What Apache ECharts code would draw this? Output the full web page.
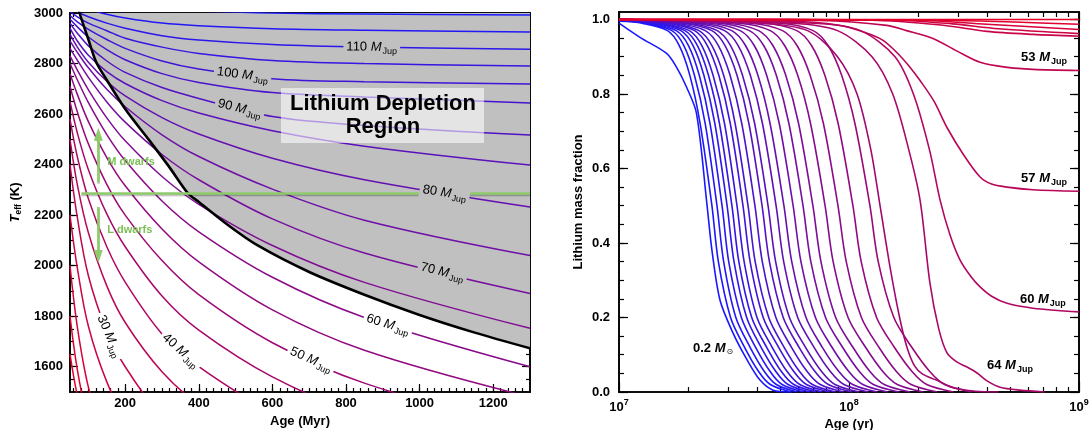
<!DOCTYPE html>
<html>
<head>
<meta charset="utf-8">
<script src="https://cdn.jsdelivr.net/npm/echarts@6/dist/echarts.min.js"></script>
<style>
  html, body { margin: 0; padding: 0; background: #fff; }
  #chart { width: 1089px; height: 430px; }
</style>
</head>
<body>
<div id="chart"></div>
<script>
// ---------------- Left panel: Teff (K) versus age (Myr) for each mass (M_Jup) ----------------
const trackAges = [50, 70, 100, 150, 200, 300, 400, 600, 850, 1300];
const teff_M10  = [1650, 1486, 1319, 1139];
const teff_M15  = [1800, 1588, 1378, 1161];
const teff_M20  = [2000, 1757, 1519, 1273, 1115];
const teff_M25  = [2200, 1990, 1760, 1540, 1400, 1212];
const teff_M30  = [2400, 2190, 1960, 1740, 1600, 1400, 1270];
const teff_M35  = [2500, 2320, 2130, 1920, 1775, 1580, 1450, 1270];
const teff_M40  = [2580, 2430, 2265, 2075, 1935, 1730, 1600, 1420, 1270];
const teff_M45  = [2650, 2525, 2380, 2205, 2075, 1880, 1745, 1560, 1405, 1225];
const teff_M50  = [2710, 2608, 2482, 2322, 2200, 2020, 1885, 1695, 1535, 1350];
const teff_M55  = [2760, 2678, 2570, 2428, 2316, 2145, 2015, 1825, 1665, 1480];
const teff_M60  = [2800, 2735, 2645, 2519, 2416, 2256, 2134, 1954, 1795, 1600];
const teff_M65  = [2830, 2774, 2696, 2585, 2494, 2353, 2243, 2080, 1934, 1752];
const teff_M70  = [2860, 2813, 2745, 2648, 2568, 2440, 2340, 2185, 2050, 1890];
const teff_M75  = [2890, 2844, 2783, 2698, 2629, 2518, 2432, 2303, 2180, 2040];
const teff_M80  = [2915, 2865, 2805, 2730, 2672, 2586, 2521, 2425, 2340, 2232];
const teff_M85  = [2940, 2889, 2833, 2768, 2721, 2653, 2604, 2534, 2473, 2398];
const teff_M90  = [2960, 2920, 2870, 2810, 2765, 2705, 2662, 2590, 2555, 2517];
const teff_M95  = [2975, 2945, 2905, 2855, 2815, 2760, 2725, 2685, 2668, 2644];
const teff_M100 = [2990, 2965, 2935, 2895, 2860, 2810, 2778, 2740, 2728, 2719];
const teff_M105 = [3005, 2985, 2960, 2930, 2900, 2865, 2840, 2812, 2800, 2790];
const teff_M110 = [3025, 3005, 2985, 2960, 2940, 2910, 2893, 2875, 2865, 2857];
const teff_M115 = [3050, 3030, 3015, 2995, 2980, 2960, 2950, 2938, 2932, 2925];
const teff_M120 = [3090, 3075, 3060, 3045, 3030, 3015, 3008, 3000, 2996, 2992];

const trackMasses = [10, 15, 20, 25, 30, 35, 40, 45, 50, 55, 60, 65, 70, 75, 80, 85, 90, 95, 100, 105, 110, 115, 120];
const trackTeffs = [teff_M10, teff_M15, teff_M20, teff_M25, teff_M30, teff_M35, teff_M40, teff_M45,
  teff_M50, teff_M55, teff_M60, teff_M65, teff_M70, teff_M75, teff_M80, teff_M85, teff_M90,
  teff_M95, teff_M100, teff_M105, teff_M110, teff_M115, teff_M120];

// Lithium depletion boundary (age in Myr, Teff in K)
const ldbAges = [62, 76, 100, 121, 150, 202, 265, 320, 370, 400, 480, 560, 700, 850, 1000, 1150, 1300];
const ldbTeff = [3080, 3000, 2895, 2806, 2735, 2616, 2497, 2390, 2287, 2252, 2160, 2080, 1975, 1885, 1805, 1735, 1673];

// Mass labels placed along the tracks (mass, age in Myr, background)
const trackLabelMass = [110, 100, 90, 80, 70, 60, 50, 40, 30];
const trackLabelAge  = [870, 519, 511, 1068, 1062, 914, 705, 351, 157];
const trackLabelInGrey = [true, true, true, true, true, false, false, false, false];

// Spectral-class divider and arrows (Teff in K, age in Myr)
const dividerTeff = 2285;
const dividerAges = [81, 1300];
const arrowAge = 127;
const arrowUpTeff = [2330, 2520];
const arrowDownTeff = [2232, 2036];

// Left panel ticks
const ageMajor = [200, 400, 600, 800, 1000, 1200];
const teffMajor = [1600, 1800, 2000, 2200, 2400, 2600, 2800, 3000];

// ---------------- Right panel: lithium mass fraction versus log10(age / yr) ----------------
const liTrack00 = [[7.000,0.990],[7.091,0.952],[7.207,0.909],[7.250,0.872],[7.294,0.818],[7.337,0.748],[7.383,0.5],[7.404,0.381],[7.439,0.247],[7.496,0.158],[7.557,0.086],[7.613,0.032],[7.670,0.005],[7.750,0]];
const liTrack01 = [[7,0.995],[7.100,0.99],[7.211,0.97],[7.262,0.93],[7.308,0.85],[7.353,0.72],[7.404,0.5],[7.432,0.35],[7.485,0.2],[7.546,0.12],[7.607,0.055],[7.658,0.02],[7.749,0]];
const liTrack02 = [[7,0.997],[7.117,0.99],[7.230,0.97],[7.282,0.93],[7.328,0.85],[7.375,0.72],[7.426,0.5],[7.455,0.35],[7.508,0.2],[7.570,0.12],[7.632,0.055],[7.684,0.02],[7.776,0]];
const liTrack03 = [[7,0.998],[7.135,0.99],[7.249,0.97],[7.302,0.93],[7.349,0.85],[7.396,0.72],[7.448,0.5],[7.477,0.35],[7.532,0.2],[7.594,0.12],[7.657,0.055],[7.709,0.02],[7.803,0]];
const liTrack04 = [[7,0.999],[7.152,0.99],[7.269,0.97],[7.322,0.93],[7.369,0.85],[7.417,0.72],[7.470,0.5],[7.500,0.35],[7.555,0.2],[7.618,0.12],[7.682,0.055],[7.735,0.02],[7.830,0]];
const liTrack05 = [[7,1],[7.169,0.99],[7.287,0.97],[7.341,0.93],[7.389,0.85],[7.437,0.72],[7.491,0.5],[7.521,0.35],[7.577,0.2],[7.642,0.12],[7.706,0.055],[7.760,0.02],[7.857,0]];
const liTrack06 = [[7,1],[7.186,0.99],[7.306,0.97],[7.360,0.93],[7.409,0.85],[7.459,0.72],[7.513,0.5],[7.544,0.35],[7.600,0.2],[7.666,0.12],[7.731,0.055],[7.786,0.02],[7.884,0]];
const liTrack07 = [[7,1],[7.208,0.99],[7.329,0.97],[7.384,0.93],[7.434,0.85],[7.484,0.72],[7.539,0.5],[7.570,0.35],[7.627,0.2],[7.694,0.12],[7.760,0.055],[7.815,0.02],[7.915,0]];
const liTrack08 = [[7,1],[7.225,0.99],[7.348,0.97],[7.404,0.93],[7.455,0.85],[7.505,0.72],[7.561,0.5],[7.592,0.35],[7.651,0.2],[7.718,0.12],[7.785,0.055],[7.841,0.02],[7.942,0]];
const liTrack09 = [[7,1],[7.251,0.99],[7.375,0.97],[7.432,0.93],[7.483,0.85],[7.534,0.72],[7.591,0.5],[7.623,0.35],[7.682,0.2],[7.750,0.12],[7.818,0.055],[7.875,0.02],[7.977,0]];
const liTrack10 = [[7,1],[7.277,0.99],[7.404,0.97],[7.461,0.93],[7.513,0.85],[7.565,0.72],[7.622,0.5],[7.654,0.35],[7.714,0.2],[7.783,0.12],[7.852,0.055],[7.910,0.02],[8.013,0]];
const liTrack11 = [[7,1],[7.299,0.99],[7.427,0.97],[7.485,0.93],[7.537,0.85],[7.590,0.72],[7.648,0.5],[7.681,0.35],[7.741,0.2],[7.811,0.12],[7.881,0.055],[7.939,0.02],[8.044,0]];
const liTrack12 = [[7,1],[7.329,0.99],[7.459,0.97],[7.518,0.93],[7.571,0.85],[7.624,0.72],[7.683,0.5],[7.716,0.35],[7.777,0.2],[7.848,0.12],[7.919,0.055],[7.978,0.02],[8.084,0]];
const liTrack13 = [[7,1],[7.359,0.99],[7.490,0.97],[7.550,0.93],[7.604,0.85],[7.657,0.72],[7.717,0.5],[7.751,0.35],[7.813,0.2],[7.884,0.12],[7.956,0.055],[8.016,0.02],[8.123,0]];
const liTrack14 = [[7,1],[7.394,0.99],[7.527,0.97],[7.588,0.93],[7.642,0.85],[7.697,0.72],[7.757,0.5],[7.791,0.35],[7.854,0.2],[7.926,0.12],[7.999,0.055],[8.060,0.02],[8.168,0]];
const liTrack15 = [[7,1],[7.433,0.99],[7.567,0.97],[7.629,0.93],[7.684,0.85],[7.739,0.72],[7.800,0.5],[7.834,0.35],[7.898,0.2],[7.972,0.12],[8.045,0.055],[8.106,0.02],[8.217,0]];
const liTrack16 = [[7,1],[7.471,0.99],[7.607,0.97],[7.669,0.93],[7.725,0.85],[7.781,0.72],[7.843,0.5],[7.878,0.35],[7.942,0.2],[8.017,0.12],[8.091,0.055],[8.153,0.02],[8.265,0]];
const liTrack17 = [[7,1],[7.520,0.99],[7.658,0.97],[7.720,0.93],[7.777,0.85],[7.833,0.72],[7.896,0.5],[7.931,0.35],[7.996,0.2],[8.072,0.12],[8.147,0.055],[8.210,0.02],[8.323,0]];
const liTrack18 = [[7,1],[7.571,0.99],[7.711,0.97],[7.774,0.93],[7.831,0.85],[7.889,0.72],[7.952,0.5],[7.988,0.35],[8.054,0.2],[8.130,0.12],[8.206,0.055],[8.270,0.02],[8.384,0]];
const liTrack19 = [[7,1],[7.632,0.99],[7.773,0.97],[7.837,0.93],[7.895,0.85],[7.953,0.72],[8.017,0.5],[8.053,0.35],[8.120,0.2],[8.197,0.12],[8.274,0.055],[8.338,0.02],[8.454,0]];
const liTrack20 = [[7,1],[7.701,0.99],[7.844,0.97],[7.909,0.93],[7.968,0.85],[8.026,0.72],[8.091,0.5],[8.127,0.35],[8.195,0.2],[8.273,0.12],[8.351,0.055],[8.416,0.02],[8.533,0]];
const liTrack21 = [[7,1],[7.62,0.99],[7.82,0.97],[7.95,0.9],[8.035,0.8],[8.095,0.65],[8.135,0.5],[8.18,0.33],[8.22,0.2],[8.252,0.12],[8.285,0.07],[8.32,0.048],[8.38,0.032],[8.45,0.012],[8.55,0.002],[8.65,0]];
const liTrack22 = [[7,1],[7.75,0.99],[7.95,0.97],[8.10,0.9],[8.19,0.8],[8.26,0.65],[8.309,0.515],[8.352,0.292],[8.39,0.17],[8.426,0.105],[8.47,0.08],[8.513,0.067],[8.557,0.051],[8.60,0.03],[8.657,0.013],[8.743,0.005],[8.85,0]];
const liTrack23 = [[7,1],[7.85,0.99],[8.05,0.97],[8.20,0.9],[8.28,0.8],[8.35,0.65],[8.396,0.515],[8.44,0.42],[8.483,0.354],[8.53,0.31],[8.57,0.282],[8.62,0.257],[8.687,0.238],[8.8,0.225],[9.0,0.215]];
const liTrack24 = [[7,1],[7.75,0.995],[7.95,0.985],[8.07,0.965],[8.148,0.944],[8.21,0.91],[8.265,0.872],[8.309,0.836],[8.37,0.78],[8.426,0.71],[8.5,0.635],[8.57,0.577],[8.62,0.558],[8.687,0.55],[8.8,0.543],[9.0,0.539]];
const liTrack25 = [[7,1],[7.874,0.997],[8.165,0.984],[8.25,0.97],[8.365,0.949],[8.47,0.915],[8.57,0.885],[8.68,0.872],[8.8,0.866],[9.0,0.863]];
const liTrack26 = [[7,1],[8.1,0.998],[8.4,0.985],[8.6,0.968],[8.8,0.96],[9.0,0.955]];
const liTrack27 = [[7,1],[8.2,0.998],[8.45,0.988],[8.65,0.975],[9.0,0.962]];
const liTrack28 = [[7,1],[8.3,0.998],[8.6,0.987],[9.0,0.973]];
const liTrack29 = [[7,1],[8.4,0.998],[9.0,0.987]];
const liTrack30 = [[7,1],[9.0,1.0]];

const liTracks = [liTrack00, liTrack01, liTrack02, liTrack03, liTrack04, liTrack05, liTrack06, liTrack07,
  liTrack08, liTrack09, liTrack10, liTrack11, liTrack12, liTrack13, liTrack14, liTrack15, liTrack16,
  liTrack17, liTrack18, liTrack19, liTrack20, liTrack21, liTrack22, liTrack23, liTrack24, liTrack25,
  liTrack26, liTrack27, liTrack28, liTrack29, liTrack30];

// Curve labels: text, unit, log10(age), lithium fraction
const liLabelText = ['53', '57', '60', '64', '0.2'];
const liLabelUnit = ['Jup', 'Jup', 'Jup', 'Jup', 'sun'];
const liLabelLogAge = [8.848, 8.848, 8.843, 8.700, 7.409];
const liLabelFrac = [0.898, 0.574, 0.249, 0.072, 0.118];

// Right panel ticks
const decadeMajor = [7, 8, 9];
const decadeMultipliers = [2, 3, 4, 5, 6, 7, 8, 9];
const fracMajor = [0, 0.2, 0.4, 0.6, 0.8, 1.0];

// ---------------- styling helpers ----------------
const FONT = "'Liberation Sans', Arial, Helvetica, sans-serif";
const RED = [232, 0, 40], BLUE = [25, 25, 255];
function mix(a, b, t) {
  return 'rgb(' + a.map((v, k) => Math.round(v + (b[k] - v) * t)).join(',') + ')';
}
function steps(a, b, s) {
  const out = [];
  for (let v = a; v <= b + 1e-9; v += s) out.push(+v.toFixed(6));
  return out;
}
const ageMinor = steps(60, 1280, 20);
const teffMinor = steps(1550, 2950, 50);
const fracMinor = steps(0.05, 1.0, 0.05);
const decadeMinor = [];
[7, 8].forEach(d => decadeMultipliers.forEach(m => decadeMinor.push(d + Math.log10(m))));

function tickAxis(grid, pos, min, max, ticks, len, extra) {
  return Object.assign({
    type: 'value', gridIndex: grid, position: pos, min: min, max: max,
    axisLine: { show: true, onZero: false, lineStyle: { color: '#000', width: 1.6 } },
    axisTick: { show: true, inside: true, length: len, customValues: ticks, lineStyle: { color: '#000', width: 1.2 } },
    axisLabel: { show: false },
    splitLine: { show: false },
    minorTick: { show: false }
  }, extra || {});
}
const tickLabel = { show: true, color: '#000', fontFamily: FONT, fontWeight: 'bold', fontSize: 13 };
const nameStyle = { color: '#000', fontFamily: FONT, fontWeight: 'bold', fontSize: 13 };

function interp(xs, ys, x) {
  const n = ys.length;
  if (x <= xs[0]) return ys[0];
  for (let i = 1; i < n; i++) {
    if (x <= xs[i]) {
      const t = (x - xs[i - 1]) / (xs[i] - xs[i - 1]);
      return ys[i - 1] + t * (ys[i] - ys[i - 1]);
    }
  }
  return ys[n - 1];
}

// ---------------- axes ----------------
const xAxes = [
  tickAxis(0, 'bottom', 50, 1300, ageMajor, 8, {
    axisLabel: Object.assign({ customValues: ageMajor, margin: 5, formatter: v => String(v) }, tickLabel),
    name: 'Age (Myr)', nameLocation: 'middle', nameGap: 16, nameTextStyle: nameStyle
  }),
  tickAxis(0, 'bottom', 50, 1300, ageMinor, 4),
  tickAxis(0, 'top', 50, 1300, ageMajor, 8),
  tickAxis(0, 'top', 50, 1300, ageMinor, 4),
  tickAxis(1, 'bottom', 7, 9, decadeMajor, 10, {
    axisLabel: Object.assign({
      customValues: decadeMajor, margin: 6,
      formatter: v => '{b|10}{sup|' + Math.round(v) + '}',
      rich: {
        b: { fontFamily: FONT, fontWeight: 'bold', fontSize: 13, color: '#000' },
        sup: { fontFamily: FONT, fontWeight: 'bold', fontSize: 9, color: '#000', padding: [0, 0, 9, 0] }
      }
    }, tickLabel),
    name: 'Age (yr)', nameLocation: 'middle', nameGap: 21, nameTextStyle: nameStyle
  }),
  tickAxis(1, 'bottom', 7, 9, decadeMinor, 5),
  tickAxis(1, 'top', 7, 9, decadeMajor, 10),
  tickAxis(1, 'top', 7, 9, decadeMinor, 5)
];

const yAxes = [
  tickAxis(0, 'left', 1500, 3000, teffMajor, 8, {
    axisLabel: Object.assign({ customValues: teffMajor, margin: 7, formatter: v => String(v) }, tickLabel),
    name: '{i|T}{s|eff}{n| (K)}', nameLocation: 'middle', nameGap: 47,
    nameTextStyle: {
      rich: {
        i: { fontFamily: FONT, fontWeight: 'bold', fontStyle: 'italic', fontSize: 13, color: '#000' },
        s: { fontFamily: FONT, fontWeight: 'bold', fontSize: 8.5, color: '#000', padding: [7, 0, 0, 0] },
        n: { fontFamily: FONT, fontWeight: 'bold', fontSize: 13, color: '#000' }
      }
    }
  }),
  tickAxis(0, 'left', 1500, 3000, teffMinor, 4),
  tickAxis(0, 'right', 1500, 3000, teffMajor, 8),
  tickAxis(0, 'right', 1500, 3000, teffMinor, 4),
  tickAxis(1, 'left', 0, 1.02, fracMajor, 9, {
    axisLabel: Object.assign({ customValues: fracMajor, margin: 9, formatter: v => v.toFixed(1) }, tickLabel),
    name: 'Lithium mass fraction', nameLocation: 'middle', nameGap: 34, nameTextStyle: nameStyle
  }),
  tickAxis(1, 'left', 0, 1.02, fracMinor, 5),
  tickAxis(1, 'right', 0, 1.02, fracMajor, 9),
  tickAxis(1, 'right', 0, 1.02, fracMinor, 5)
];

// ---------------- series ----------------
const GREEN = '#8fcb6b';
const GREEN_TEXT = '#7cbf56';
const massRich = (bold) => ({
  n: { fontFamily: FONT, fontSize: 13, fontWeight: bold ? 'bold' : 'normal', color: '#000' },
  m: { fontFamily: FONT, fontSize: 13, fontStyle: 'italic', fontWeight: bold ? 'bold' : 'normal', color: '#000' },
  s: { fontFamily: FONT, fontSize: 9, fontWeight: bold ? 'bold' : 'normal', color: '#000', padding: [8, 0, 0, 1] },
  o: { fontFamily: "'DejaVu Sans', " + FONT, fontSize: 8, fontWeight: 'normal', color: '#000', padding: [8, 0, 0, 1] }
});

function buildSeries(trackLabelData) {
  const series = [];
  // grey region above the depletion boundary
  series.push({
    type: 'line', xAxisIndex: 0, yAxisIndex: 0, z: 1, silent: true, smooth: 0.3,
    showSymbol: false, symbol: 'none', clip: true,
    data: ldbAges.map((a, i) => [a, ldbTeff[i]]),
    lineStyle: { width: 0 },
    areaStyle: { color: '#c0c0c0', opacity: 1, origin: 'end' }
  });
  // evolutionary tracks
  trackMasses.forEach((m, k) => {
    const teff = trackTeffs[k];
    series.push({
      type: 'line', name: m + ' MJup', xAxisIndex: 0, yAxisIndex: 0, z: 2, silent: true,
      smooth: 0.35, showSymbol: false, symbol: 'none', clip: true,
      data: teff.map((t, i) => [trackAges[i], t]),
      lineStyle: { width: 1.5, color: mix(RED, BLUE, (m - 10) / 110) }
    });
  });
  // depletion boundary line
  series.push({
    type: 'line', xAxisIndex: 0, yAxisIndex: 0, z: 3, silent: true, smooth: 0.3,
    showSymbol: false, symbol: 'none', clip: true,
    data: ldbAges.map((a, i) => [a, ldbTeff[i]]),
    lineStyle: { width: 2.6, color: '#000' }
  });
  // M / L divider and arrows
  series.push({
    type: 'line', xAxisIndex: 0, yAxisIndex: 0, z: 4, silent: true, data: [],
    markLine: {
      silent: true, animation: false, symbol: ['none', 'none'], label: { show: false },
      emphasis: { disabled: true },
      lineStyle: { color: GREEN, width: 2.6, type: 'solid', opacity: 1,
        shadowColor: 'rgba(0,0,0,0.25)', shadowOffsetY: 1.5, shadowBlur: 1 },
      data: [
        [{ coord: [dividerAges[0], dividerTeff] }, { coord: [dividerAges[1], dividerTeff] }],
        [{ coord: [arrowAge, arrowUpTeff[0]] }, { coord: [arrowAge, arrowUpTeff[1]], symbol: 'triangle', symbolSize: [9, 13] }],
        [{ coord: [arrowAge, arrowDownTeff[0]] }, { coord: [arrowAge, arrowDownTeff[1]], symbol: 'triangle', symbolSize: [9, 13] }]
      ]
    }
  });
  series.push({
    type: 'scatter', xAxisIndex: 0, yAxisIndex: 0, z: 7, silent: true, symbolSize: 0,
    data: [{ value: [151, 2410], name: 'M dwarfs' }, { value: [151, 2141], name: 'L dwarfs' }],
    label: { show: true, position: 'right', distance: 0, formatter: p => p.name,
      fontFamily: FONT, fontWeight: 'bold', fontSize: 11, color: GREEN_TEXT, opacity: 1 }
  });
  // track labels
  series.push({
    type: 'scatter', xAxisIndex: 0, yAxisIndex: 0, z: 6, silent: true, symbolSize: 0,
    data: trackLabelData,
    label: { show: true, position: 'inside', padding: [0, 3, 0, 3], color: '#000', opacity: 1,
      formatter: p => '{n|' + p.name + ' }{m|M}{s|Jup}', rich: massRich(false) }
  });
  // lithium fraction curves
  liTracks.forEach((tr, i) => {
    series.push({
      type: 'line', xAxisIndex: 4, yAxisIndex: 4, z: 2, silent: true,
      smooth: 0.3, showSymbol: false, symbol: 'none', clip: true,
      data: tr,
      lineStyle: { width: 1.6, color: mix(BLUE, RED, Math.pow(i / (liTracks.length - 1), 1.15)) }
    });
  });
  series.push({
    type: 'scatter', xAxisIndex: 4, yAxisIndex: 4, z: 6, silent: true, symbolSize: 0,
    data: liLabelText.map((t, i) => ({ value: [liLabelLogAge[i], liLabelFrac[i]], name: t, unit: liLabelUnit[i] })),
    label: { show: true, position: 'inside', color: '#000', opacity: 1,
      formatter: p => p.data.unit === 'sun'
        ? '{n|' + p.name + ' }{m|M}{o|\u2299}'
        : '{n|' + p.name + ' }{m|M}{s|Jup}',
      rich: massRich(true) }
  });
  return series;
}

const chart = echarts.init(document.getElementById('chart'), null, { renderer: 'canvas' });
const option = {
  animation: false,
  backgroundColor: '#fff',
  grid: [
    { left: 70, top: 13, width: 460, height: 379, containLabel: false, outerBoundsMode: 'none' },
    { left: 619, top: 12, width: 460, height: 380, containLabel: false, outerBoundsMode: 'none' }
  ],
  xAxis: xAxes,
  yAxis: yAxes,
  graphic: [
    { type: 'rect', z: 50, shape: { x: 281, y: 88, width: 203, height: 55 },
      style: { fill: 'rgba(255,255,255,0.57)' } },
    { type: 'text', z: 51, x: 383, y: 115,
      style: { text: 'Lithium Depletion\nRegion', fill: '#000', font: 'bold 22px ' + FONT,
        align: 'center', verticalAlign: 'middle', lineHeight: 23 } }
  ],
  series: buildSeries([])
};
chart.setOption(option);

// place the mass labels on their tracks, rotated along the local slope
const labelData = trackLabelMass.map((m, j) => {
  const k = trackMasses.indexOf(m);
  const ys = trackTeffs[k], xs = trackAges.slice(0, ys.length);
  const a = trackLabelAge[j];
  const p1 = chart.convertToPixel({ xAxisIndex: 0, yAxisIndex: 0 }, [a - 30, interp(xs, ys, a - 30)]);
  const p2 = chart.convertToPixel({ xAxisIndex: 0, yAxisIndex: 0 }, [a + 30, interp(xs, ys, a + 30)]);
  const rot = -Math.atan2(p2[1] - p1[1], p2[0] - p1[0]) * 180 / Math.PI;
  return {
    value: [a, interp(xs, ys, a)], name: String(m),
    label: { rotate: rot, backgroundColor: trackLabelInGrey[j] ? '#c0c0c0' : '#ffffff' }
  };
});
chart.setOption({ series: buildSeries(labelData) });
</script>
</body>
</html>
